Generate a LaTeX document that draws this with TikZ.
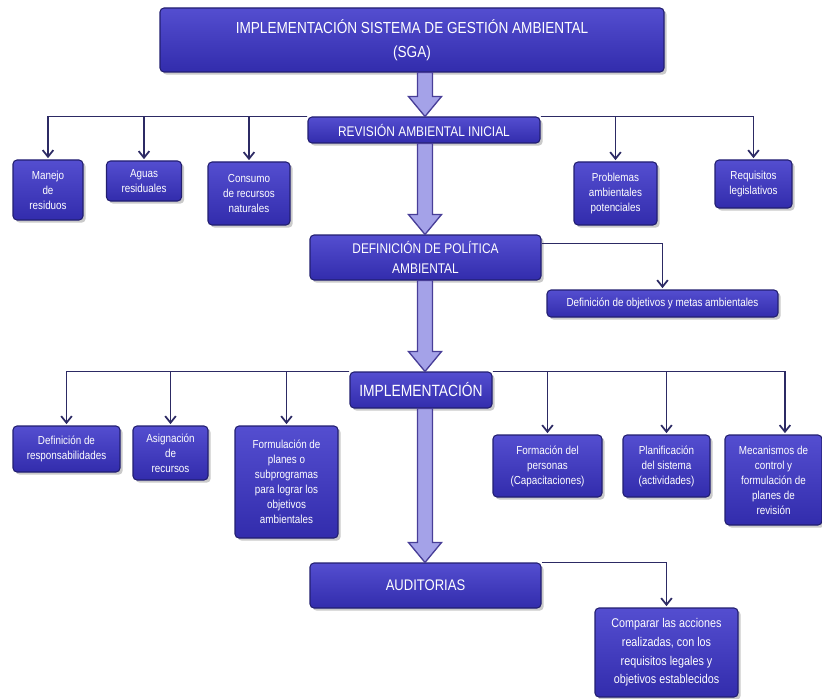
\documentclass[tikz,border=0pt]{standalone}
\usepackage{fontspec}
\setmainfont{Liberation Sans}[FakeStretch=0.85]
\usepackage{tikz}
\usetikzlibrary{arrows}
\usetikzlibrary{arrows.meta}
\usetikzlibrary{calc}
\usetikzlibrary{shadows}
\definecolor{boxtop}{RGB}{84,78,208}
\definecolor{boxbot}{RGB}{50,44,172}
\definecolor{boxline}{RGB}{34,30,112}
\definecolor{connline}{RGB}{44,42,100}
\definecolor{arrfill}{RGB}{164,162,232}
\definecolor{arrline}{RGB}{72,62,152}
\tikzset{box/.style = {rounded corners = 3pt, draw = boxline, line width = 0.8pt,
    top color = boxtop, bottom color = boxbot, text = white, align = center,
    inner sep = 2pt, font = \fontsize{8.7}{11.2}\selectfont,
    drop shadow = {shadow xshift = 2pt, shadow yshift = -2pt, fill = black!35, opacity = 0.6}}}
\tikzset{conn/.style = {draw = connline, line width = 1.3pt,
    -{Straight Barb[length = 5pt, width = 8pt]}, shorten > = 1pt}}
\tikzset{bigarrow/.style = {draw = arrline, fill = arrfill, line width = 1pt, line join = miter}}
\newcommand{\spinearrow}[2]{%
  \draw [bigarrow] let \p1 = (#1.south), \p2 = (#2.north), \p3 = (spine) in
    (\x3-5.6pt, \y1) -- (\x3-5.6pt, \y2+15pt) -- (\x3-12.4pt, \y2+15pt) -- (\x3, \y2)
    -- (\x3+12.4pt, \y2+15pt) -- (\x3+5.6pt, \y2+15pt) -- (\x3+5.6pt, \y1) -- cycle;}

\begin{document}
\begin{tikzpicture}[x = 0.75pt, y = -0.75pt]
    \useasboundingbox (0, 0) rectangle (822, 699);
    \coordinate (spine) at (425, 0);

    \node [box, minimum width = 378pt, minimum height = 48pt, font = \fontsize{12}{18}\selectfont]
      (sga) at (412, 40) {IMPLEMENTACIÓN SISTEMA DE GESTIÓN AMBIENTAL\\(SGA)};
    \node [box, minimum width = 174pt, minimum height = 19.5pt, font = \fontsize{10.5}{15}\selectfont]
      (rev) at (424, 130) {REVISIÓN AMBIENTAL INICIAL};
    \node [box, minimum width = 52.5pt, minimum height = 45pt] (manejo) at (48, 190) {Manejo\\de\\residuos};
    \node [box, minimum width = 56.25pt, minimum height = 30pt] (aguas) at (144, 181) {Aguas\\residuales};
    \node [box, minimum width = 61.5pt, minimum height = 47.25pt] (consumo) at (249, 193.5) {Consumo\\de recursos\\naturales};
    \node [box, minimum width = 62.25pt, minimum height = 47.25pt] (problemas) at (615.5, 193.5) {Problemas\\ambientales\\potenciales};
    \node [box, minimum width = 57.75pt, minimum height = 36pt] (requisitos) at (753.5, 184) {Requisitos\\legislativos};

    \node [box, minimum width = 173.25pt, minimum height = 33.75pt, font = \fontsize{10.5}{15}\selectfont]
      (politica) at (425.5, 257.5) {DEFINICIÓN DE POLÍTICA\\AMBIENTAL};
    \node [box, minimum width = 173.25pt, minimum height = 20.25pt] (objetivos) at (662.5, 303.5) {Definición de objetivos y metas ambientales};

    \node [box, minimum width = 106.5pt, minimum height = 27pt, font = \fontsize{12.2}{15}\selectfont]
      (impl) at (421, 390) {IMPLEMENTACIÓN};
    \node [box, minimum width = 80.25pt, minimum height = 34.5pt] (resp) at (66.5, 449) {Definición de\\responsabilidades};
    \node [box, minimum width = 56.25pt, minimum height = 40.5pt] (asig) at (170.5, 453) {Asignación\\de\\recursos};
    \node [box, minimum width = 77.25pt, minimum height = 84pt] (planes) at (286.5, 482) {Formulación de\\planes o\\subprogramas\\para lograr los\\objetivos\\ambientales};
    \node [box, minimum width = 81.75pt, minimum height = 46.5pt] (capac) at (547.5, 466) {Formación del\\personas\\(Capacitaciones)};
    \node [box, minimum width = 65.25pt, minimum height = 46.5pt] (planif) at (666.5, 466) {Planificación\\del sistema\\(actividades)};
    \node [box, minimum width = 72.75pt, minimum height = 67.5pt] (meca) at (773.5, 480) {Mecanismos de\\control y\\formulación de\\planes de\\revisión};

    \node [box, minimum width = 173.25pt, minimum height = 33.75pt, font = \fontsize{11.5}{15}\selectfont]
      (audit) at (425.5, 585.5) {AUDITORIAS};
    \node [box, minimum width = 107.25pt, minimum height = 66.75pt, font = \fontsize{9.5}{14}\selectfont]
      (comparar) at (666.5, 652.5) {Comparar las acciones\\realizadas, con los\\requisitos legales y\\objetivos establecidos};

    \spinearrow{sga}{rev}
    \spinearrow{rev}{politica}
    \spinearrow{politica}{impl}
    \spinearrow{impl}{audit}

    \foreach \c in {manejo, aguas, consumo}{
      \draw [conn] (rev.north west) -| (\c.north);
    }
    \foreach \c in {problemas, requisitos}{
      \draw [conn] (rev.north east) -| (\c.north);
    }
    \draw [conn] ([yshift = -6.75pt]politica.north east) -| (objetivos.north);
    \foreach \c in {resp, asig, planes}{
      \draw [conn] (impl.north west) -| (\c.north);
    }
    \foreach \c in {capac, planif}{
      \draw [conn] (impl.north east) -| (\c.north);
    }
    \draw [conn] (impl.north east) -| ([xshift = 8.6pt]meca.north);
    \draw [conn] (audit.north east) -| (comparar.north);
  \end{tikzpicture}
\end{document}
